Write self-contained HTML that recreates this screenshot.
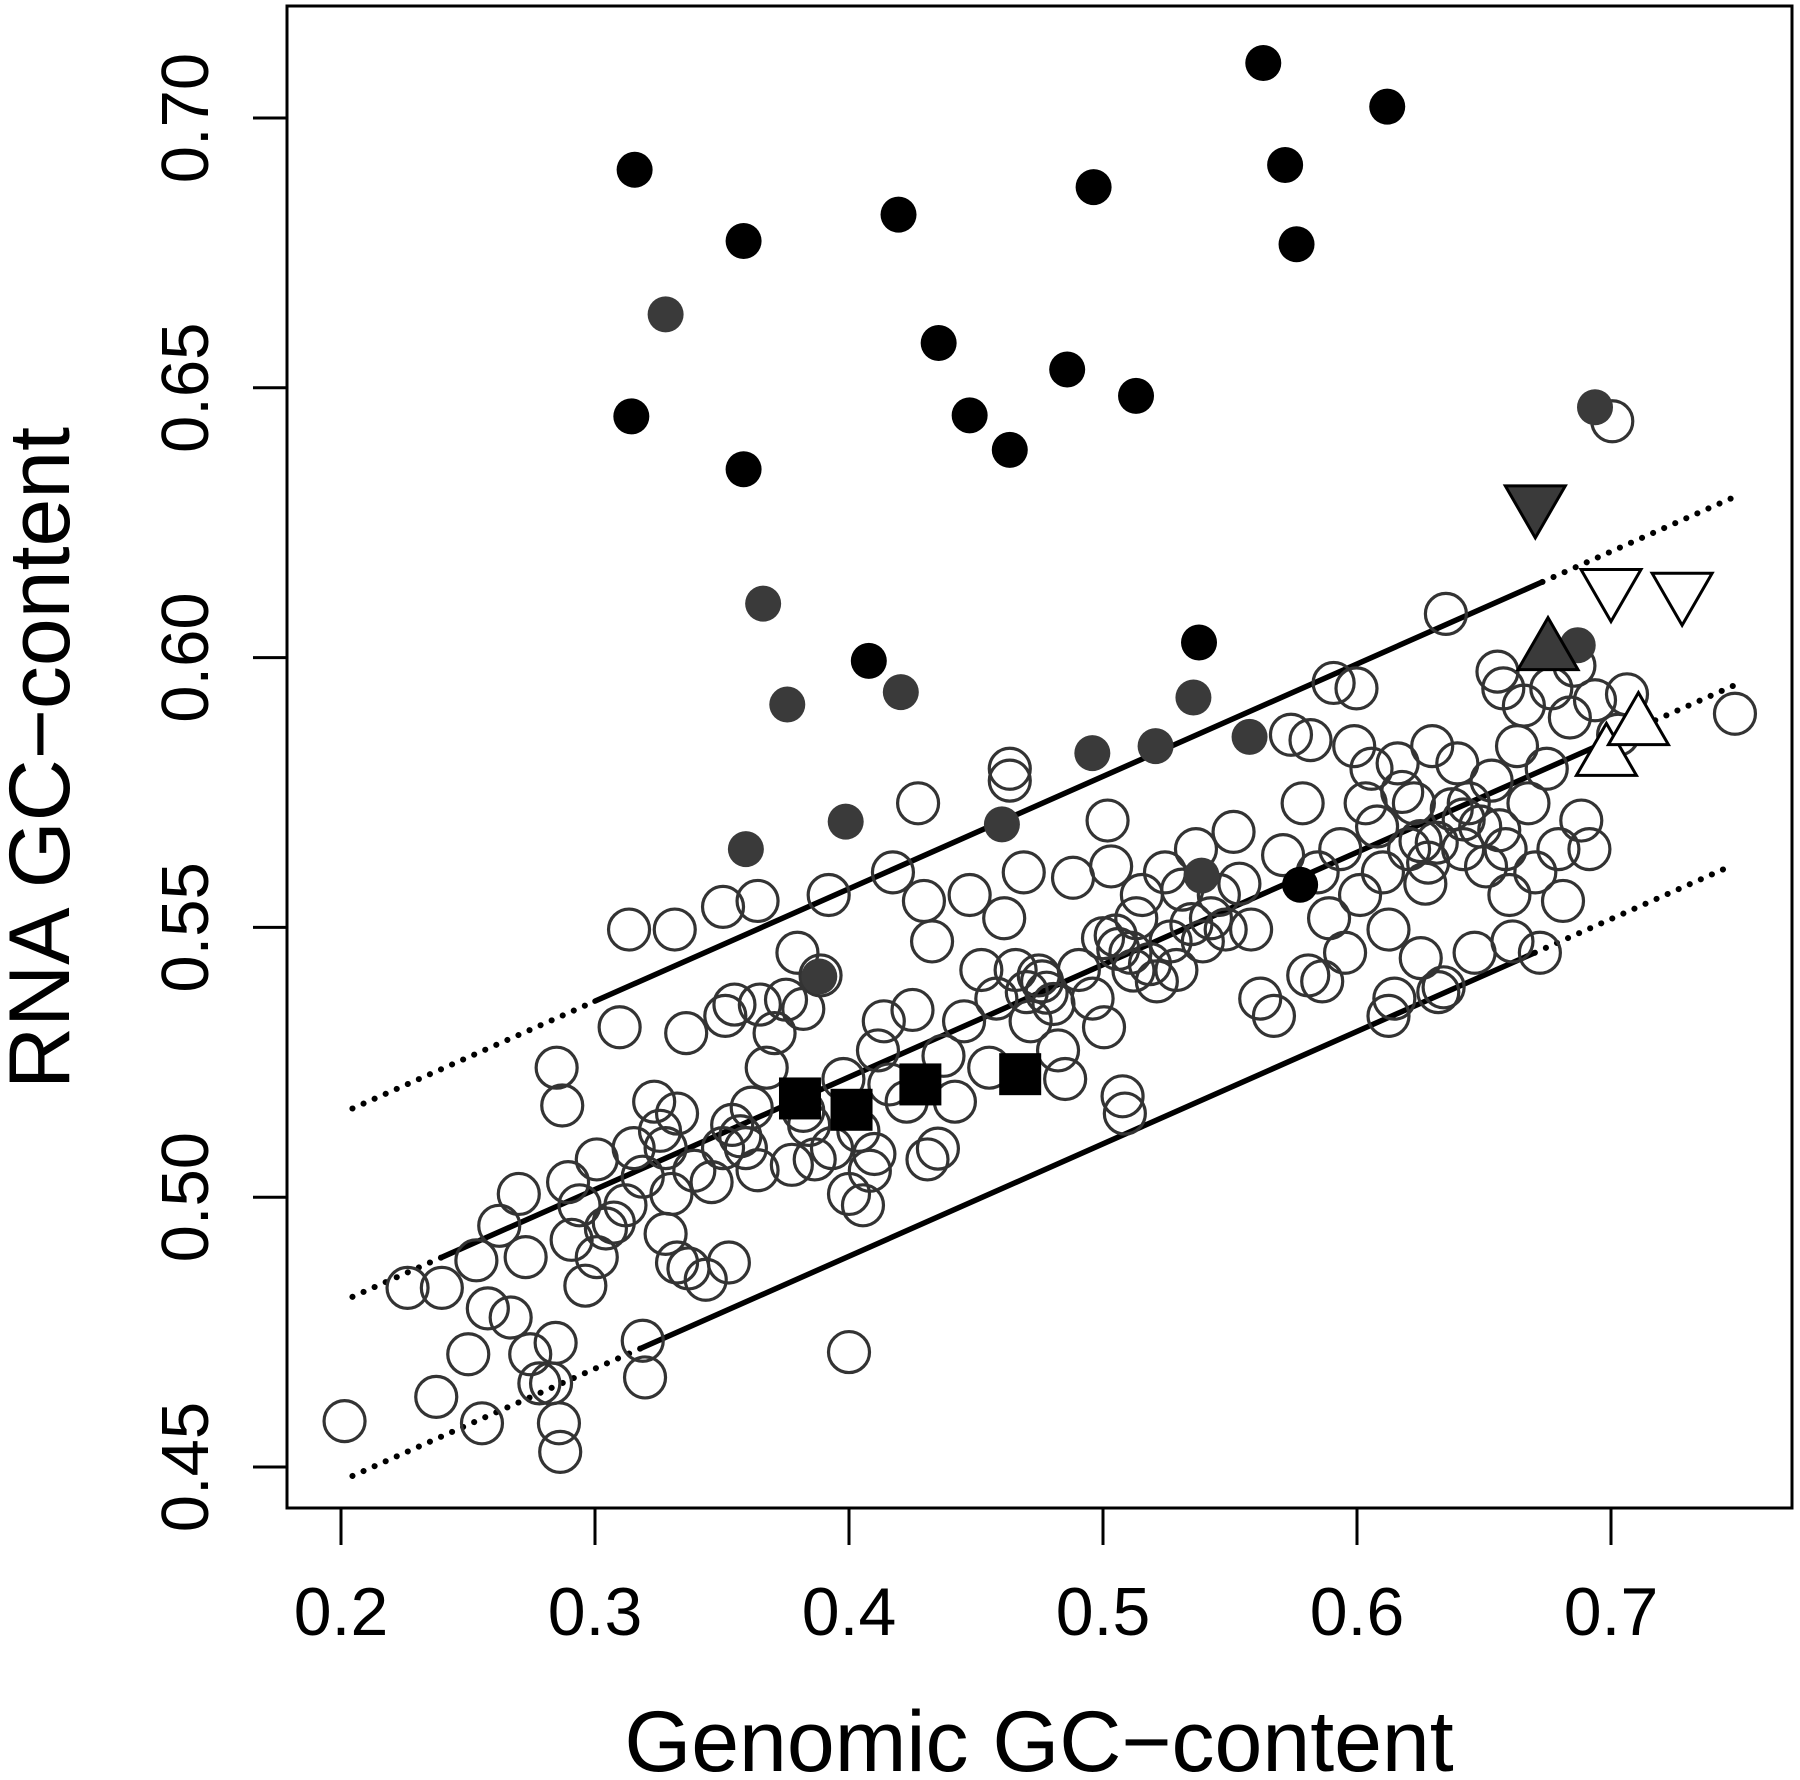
<!DOCTYPE html>
<html><head><meta charset="utf-8"><style>
html,body{margin:0;padding:0;background:#fff}
svg{display:block}
text{font-family:"Liberation Sans",Arial,sans-serif;fill:#000}
</style></head><body>
<svg id="chart" width="1800" height="1780" viewBox="0 0 1800 1780" xmlns="http://www.w3.org/2000/svg">
<g id="lines"></g>
<g id="pts"></g>
<g id="axes"></g>
</svg>
<script>
const xTicks=[0.2,0.3,0.4,0.5,0.6,0.7];
const xTickLabels=["0.2","0.3","0.4","0.5","0.6","0.7"];
const yTicks=[0.45,0.50,0.55,0.60,0.65,0.70];
const yTickLabels=["0.45","0.50","0.55","0.60","0.65","0.70"];
const lineSlope=0.2083;
const lineIntercept=0.4806; // value at x=0.2
const lineOffsets=[0.0349,0,-0.0332];
const lineSolidFrom=[0.30,0.24,0.318];
const lineSolidTo=[0.673,0.70,0.67];
const lineRange=[0.2045,0.748];
const openX=[.2014,.2262,.2397,.2375,.2501,.2533,.2555,.2578,.2623,.2668,.2700,.2727,.2745,.2781,.2849,.2871,.2894,.2845,.2858,.2863,.2827,.2908,.2939,.2962,.3007,.3043,.3074,.3097,.3134,.3152,.3188,.3188,.3197,.3233,.3256,.3278,.3301,.3314,.3323,.3359,.3278,.3323,.3368,.3391,.3436,.3459,.3504,.3513,.3527,.3540,.3549,.3572,.3594,.3617,.3640,.3649,.3676,.3707,.3752,.3775,.3797,.3820,.3843,.3865,.3888,.3920,.3933,.3978,.4000,.4000,.4037,.4055,.4082,.4114,.4137,.4159,.4173,.4227,.4250,.4272,.4295,.4309,.4327,.4372,.4417,.4453,.4475,.4521,.4552,.4580,.4611,.4633,.4633,.4656,.4688,.4715,.4747,.4778,.4805,.4823,.4851,.4882,.4905,.4959,.5004,.5018,.5032,.5050,.5077,.5086,.5108,.5131,.5153,.5185,.5212,.5244,.5266,.5289,.5312,.5348,.5366,.5393,.5425,.5456,.5483,.5514,.5537,.5583,.5619,.5673,.5709,.5740,.5786,.5808,.5817,.5845,.5863,.5890,.5908,.5934,.5953,.5989,.5998,.6012,.6034,.6057,.6079,.6102,.6124,.6147,.6160,.6178,.6205,.6224,.6251,.6269,.6296,.6314,.6341,.6350,.6373,.6395,.6418,.6440,.6463,.6485,.6508,.6530,.6553,.6576,.6585,.6612,.6630,.6657,.6675,.6702,.6720,.6747,.6765,.6793,.6811,.6838,.6856,.6883,.6915,.6937,.7028,.7063,.7488,.7005,.3007,.3120,.3504,.3640,.3820,.4100,.4350,.6124,.6320,.5000,.5060,.5120,.4760,.4700,.6250,.6420,.6560,.6600,.6280];
const openY=[.4585,.4832,.4832,.4630,.4709,.4883,.4581,.4794,.4947,.4777,.5006,.4889,.4709,.4655,.5240,.5170,.5028,.4730,.4581,.4528,.4655,.4921,.4985,.4836,.4889,.4942,.4953,.5315,.5496,.5091,.5038,.4734,.4666,.5177,.5123,.5091,.5006,.5496,.5155,.5304,.4932,.4879,.4868,.5049,.4847,.5028,.5538,.5336,.4879,.5134,.5357,.5113,.5091,.5166,.5549,.5357,.5240,.5304,.5366,.5060,.5453,.5349,.5134,.5070,.5411,.5560,.5091,.5219,.5006,.4713,.5123,.4985,.5049,.5272,.5326,.5209,.5602,.5177,.5347,.5730,.5549,.5070,.5474,.5262,.5177,.5326,.5560,.5421,.5240,.5368,.5517,.5794,.5772,.5421,.5602,.5326,.5411,.5379,.5358,.5272,.5219,.5592,.5421,.5368,.5315,.5698,.5613,.5485,.5187,.5155,.5453,.5517,.5560,.5432,.5400,.5602,.5474,.5421,.5570,.5506,.5645,.5474,.5517,.5560,.5496,.5677,.5581,.5496,.5368,.5336,.5634,.5857,.5730,.5411,.5847,.5602,.5400,.5517,.5953,.5645,.5453,.5836,.5943,.5560,.5730,.5794,.5687,.5602,.5496,.5368,.5804,.5751,.5645,.5730,.5443,.5581,.5836,.5657,.5389,.6081,.5719,.5804,.5645,.5730,.5453,.5687,.5613,.5772,.5974,.5943,.5645,.5474,.5836,.5911,.5730,.5602,.5453,.5794,.5943,.5645,.5549,.5889,.5985,.5698,.5645,.5921,.5857,.5932,.5896,.6438,.5070,.4985,.5091,.5050,.5160,.5080,.5090,.5336,.5380,.5480,.5460,.5420,.5400,.5380,.5660,.5700,.5680,.5560,.5620];
const blackX=[.3156,.3143,.3585,.3585,.4195,.4353,.4475,.4633,.4859,.4963,.5130,.5631,.5717,.5762,.6119,.4078,.5378,.5776];
const blackY=[.6904,.6447,.6772,.6349,.6821,.6583,.6449,.6385,.6534,.6872,.6485,.7102,.6913,.6766,.7021,.5994,.6028,.5579];
const grayX=[.3278,.3662,.3757,.4204,.3594,.3987,.4602,.4958,.5207,.5356,.5577,.5388,.6937,.6869,.3883];
const grayY=[.6636,.6100,.5913,.5936,.5645,.5696,.5691,.5823,.5836,.5926,.5853,.5596,.6464,.6023,.5409];
const squareX=[.3807,.4010,.4281,.4674];
const squareY=[.5183,.5162,.5209,.5228];
const triDownX=[.6702,.7000,.7280];
const triDownY=[.6285,.6130,.6123];
const triDownFill=["#3a3a3a","#fff","#fff"];
const triUpX=[.6752,.6982,.7108];
const triUpY=[.6011,.5815,.5872];
const triUpFill=["#3a3a3a","#fff","#fff"];

const NS="http://www.w3.org/2000/svg";
const X=v=>341+(v-0.2)*2540;
const Y=v=>1467-(v-0.45)*5396;
function mk(tag,attrs,parent){const e=document.createElementNS(NS,tag);for(const k in attrs)e.setAttribute(k,attrs[k]);parent.appendChild(e);return e;}
const L=document.getElementById('lines'),P=document.getElementById('pts'),A=document.getElementById('axes');
const yl=(x,o)=>lineIntercept+lineSlope*(x-0.2)+o;
lineOffsets.forEach((o,i)=>{
  const segs=[[lineRange[0],lineSolidFrom[i],true],[lineSolidFrom[i],lineSolidTo[i],false],[lineSolidTo[i],lineRange[1],true]];
  segs.forEach(s=>{
    const ln=mk('line',{x1:X(s[0]),y1:Y(yl(s[0],o)),x2:X(s[1]),y2:Y(yl(s[1],o)),stroke:'#000','stroke-width':s[2]?6:5.5,'stroke-linecap':'round','stroke-dasharray':s[2]?'0.1 12':'none'},L);
    
    
  });
});
openX.forEach((v,i)=>{const c=mk('circle',{cx:X(v),cy:Y(openY[i]),r:20.5,fill:'none',stroke:'#333','stroke-width':3.2},P);

});
grayX.forEach((v,i)=>{const c=mk('circle',{cx:X(v),cy:Y(grayY[i]),r:18,fill:'#3a3a3a'},P);

});
blackX.forEach((v,i)=>{const c=mk('circle',{cx:X(v),cy:Y(blackY[i]),r:18,fill:'#000'},P);

});
squareX.forEach((v,i)=>{const s=mk('rect',{x:X(v)-21,y:Y(squareY[i])-21,width:42,height:42,fill:'#000'},P);

});
triDownX.forEach((v,i)=>{const cx=X(v),cy=Y(triDownY[i]);const t=mk('polygon',{points:`${cx-30},${cy-18} ${cx+30},${cy-18} ${cx},${cy+34}`,fill:triDownFill[i],stroke:'#000','stroke-width':3},P);

});
triUpX.forEach((v,i)=>{const cx=X(v),cy=Y(triUpY[i]);const t=mk('polygon',{points:`${cx-30},${cy+18} ${cx+30},${cy+18} ${cx},${cy-34}`,fill:triUpFill[i],stroke:'#000','stroke-width':3},P);

});
// axes
const box=mk('rect',{x:287,y:6,width:1505,height:1502,fill:'none',stroke:'#000','stroke-width':3},A);


xTicks.forEach((v,i)=>{const t=mk('line',{x1:X(v),y1:1508,x2:X(v),y2:1545,stroke:'#000','stroke-width':3},A);


const l=mk('text',{x:X(v),y:1635,'font-size':68,'text-anchor':'middle'},A);l.textContent=xTickLabels[i];

});
yTicks.forEach((v,i)=>{const t=mk('line',{x1:253,y1:Y(v),x2:287,y2:Y(v),stroke:'#000','stroke-width':3},A);


const l=mk('text',{x:208,y:Y(v),'font-size':67,'text-anchor':'middle',transform:`rotate(-90 208 ${Y(v)})`},A);l.textContent=yTickLabels[i];

});
const xt=mk('text',{x:1039,y:1771,'font-size':86,'text-anchor':'middle'},A);xt.textContent='Genomic GC\u2212content';


const yt=mk('text',{x:69,y:758,'font-size':86,'text-anchor':'middle',transform:'rotate(-90 69 758)'},A);yt.textContent='RNA GC\u2212content';


</script>
</body></html>
